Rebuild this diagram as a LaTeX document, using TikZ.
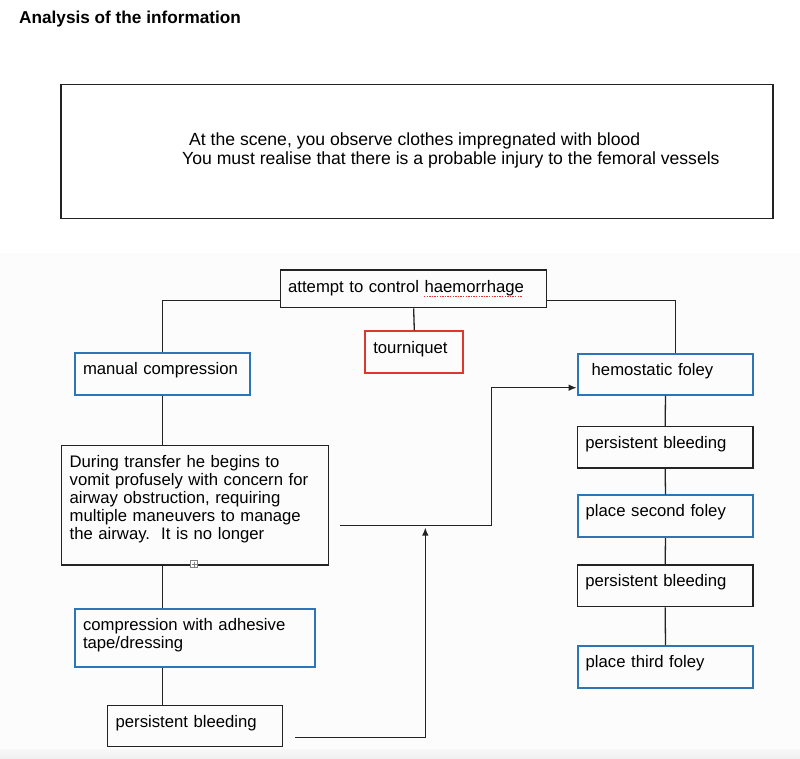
\documentclass[tikz,border=0pt]{standalone}
\usepackage{fontspec}
\setmainfont{Liberation Sans}
\usetikzlibrary{arrows.meta,calc}
\definecolor{bblue}{RGB}{46,117,182}
\definecolor{bred}{RGB}{222,56,46}
\definecolor{ink}{RGB}{35,35,35}
\begin{document}
\begin{tikzpicture}[x=1pt,y=-1pt,
  txt/.style={font=\fontsize{16.7}{18}\selectfont, text=black},
  box/.style={txt, draw=ink, line width=1.3pt, rectangle, anchor=north west,
    inner xsep=8pt, inner ysep=0pt, text height=21.5pt, align=left},
  bluebox/.style={box, draw=bblue, line width=2pt},
  redbox/.style={box, draw=bred, line width=2pt},
  conn/.style={draw=ink, line width=1.3pt},
  arr/.style={conn, -{Latex[length=8pt,width=6.5pt]}}]
\useasboundingbox (0,0) rectangle (800,759);
\fill[white] (0,0) rectangle (800,759);
\fill[gray!2] (0,253) rectangle (800,749);
\shade[top color=gray!6, bottom color=gray!12] (0,749) rectangle (800,759);

% title
\node[anchor=base west, inner sep=0pt, font=\bfseries\fontsize{17.2}{20}\selectfont] (title) at (19,23.3) {Analysis of the information};

% scene box
\node[draw=ink, line width=1.5pt, anchor=north west, inner sep=0pt, minimum width=712pt, minimum height=134pt] (scene) at (60,84) {};
\node[txt, font=\fontsize{17.6}{19}\selectfont, anchor=base west, inner sep=0pt] (scene1) at (189,145.5) {At the scene, you observe clothes impregnated with blood};
\node[txt, font=\fontsize{17.6}{19}\selectfont, anchor=base west, inner sep=0pt] (scene2) at (182,164.5) {You must realise that there is a probable injury to the femoral vessels};

% central
\node[box, text width=251pt, text height=22.4pt, text depth=15.3pt, inner xsep=7.5pt] (attempt) at (280,269.3) {attempt to control haemorrhage};
\draw[bred, line width=1.2pt, dash pattern=on 1.3pt off 1.3pt] (424,296.5) -- (522,296.5);
\node[redbox, text width=82pt, text height=22.3pt, text depth=19.7pt] (tq) at (364.3,330.3) {tourniquet};

% left column
\node[bluebox, text width=159.3pt, text depth=19.8pt] (manual) at (74,352.3) {manual compression};
\node[box, text width=250.7pt, text depth=97.8pt] (during) at (61,445) {During transfer he begins to\\vomit profusely with concern for\\airway obstruction, requiring\\multiple maneuvers to manage\\the airway.\ \ It is no longer};
\node[bluebox, text width=224.3pt, text depth=36.5pt] (comp) at (74,607.7) {compression with adhesive\\tape/dressing};
\node[box, text width=158.7pt, text depth=19.5pt] (pbl) at (107,705) {persistent bleeding};

% right column
\node[bluebox, text width=147.6pt, inner xsep=14pt, text depth=19.5pt] (hemo) at (576.7,352.7) {hemostatic foley};
\node[box, text width=159.6pt, text depth=19.8pt] (pb1) at (576.7,426) {persistent bleeding};
\node[bluebox, text width=159.6pt, text depth=20.2pt] (second) at (576.7,494.3) {place second foley};
\node[box, text width=159.6pt, text depth=20.2pt] (pb2) at (576.7,564.3) {persistent bleeding};
\node[bluebox, text width=159.6pt, text depth=20.2pt] (third) at (576.7,645) {place third foley};

% expand icon on the during box
\draw[gray, line width=0.8pt, fill=white] (190.5,560.5) rectangle (197.5,567.5);
\draw[gray, line width=0.7pt] (194,561.5) -- (194,566.5) (191.5,564) -- (196.5,564);

% connectors
\draw[conn] ([yshift=7.7pt]attempt.south west) -| (manual.north);
\draw[conn] ([yshift=7.7pt]attempt.south east) -| ([xshift=9.8pt]hemo.north);
\draw[conn] (attempt.south) -- (tq.north);
\draw[conn] (manual.south) -- (manual.south |- during.north);
\draw[conn] (manual.south |- during.south) -- (manual.south |- comp.north);
\draw[conn] (manual.south |- comp.south) -- (manual.south |- pbl.north);
\draw[conn] (hemo.south) -- (pb1.north);
\draw[conn] (pb1.south) -- (second.north);
\draw[conn] (second.south) -- (pb2.north);
\draw[conn] (pb2.south) -- (third.north);

\coordinate (a1) at (340,525.7);
\coordinate (k1) at (491.7,525.7);
\draw[arr] (a1) -- (k1) |- ([yshift=-13.5pt]hemo.west);
\coordinate (a2) at (295,737.7);
\coordinate (a3) at (425.3,527.5);
\draw[arr] (a2) -| (a3);
\end{tikzpicture}
\end{document}
